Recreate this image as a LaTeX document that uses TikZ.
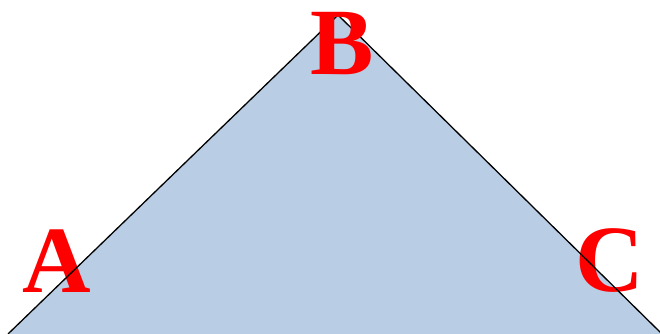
\documentclass[tikz,border=0pt]{standalone}
\usepackage{fontspec}
\setmainfont{Liberation Serif}
\usepackage{xcolor}
\usepackage{tikz}
\usetikzlibrary{positioning}

\definecolor{paleblue}{HTML}{B9CDE5}

\begin{document}
\begin{tikzpicture}[
  x=1pt, y=1pt,
  vlabel/.style={text=red, font=\fontsize{95}{95}\selectfont\bfseries, inner sep=0pt, anchor=base},
  side/.style={draw=black, line width=1.3pt}
]
\useasboundingbox (0,0) rectangle (660,334);
\clip (0,0) rectangle (660,334);

\coordinate (left) at (8,0);
\coordinate (top) at (338,319);
\coordinate (right) at (662,0);

\fill[paleblue] (left) -- (top) -- (right) -- cycle;

\node[vlabel] (labA) at (57,41) {A};
\node[vlabel] (labC) at (610,42) {C};

\draw[side] (left) -- (top) -- (right);

\node[vlabel] (labB) at (342,259) {B};

\end{tikzpicture}
\end{document}
